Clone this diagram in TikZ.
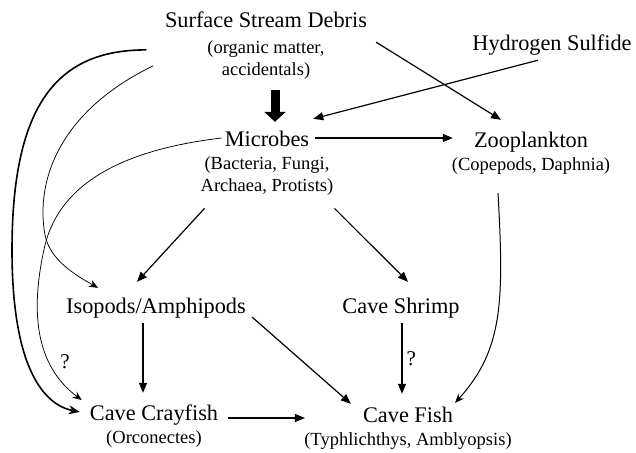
\documentclass[tikz,border=0pt]{standalone}
\usepackage{fontspec}
\setmainfont{Liberation Serif}
\usetikzlibrary{arrows.meta}
\usetikzlibrary{positioning}

\begin{document}
\begin{tikzpicture}[
    x=1pt, y=-1pt,
    taxon/.style={inner sep=0pt, text height=15.5pt, text depth=5pt, anchor=base,
      font=\fontsize{22.3}{26}\selectfont},
    detail/.style={inner sep=0pt, align=center, font=\fontsize{18.5}{22}\selectfont},
    qmark/.style={inner sep=0pt, font=\fontsize{21}{24}\selectfont},
    feed/.style={line width=1.2pt, -{Triangle[length=10pt,width=8pt]}},
    bigfeed/.style={line width=9pt, -{Triangle[length=10pt,width=21pt]}},
    curvefeed/.style={line width=0.75pt, -{Stealth[length=9pt,width=7.5pt,inset=3pt]}},
    thickfeed/.style={line width=1.6pt, -{Stealth[length=11pt,width=9pt,inset=3.5pt]}},
  ]
  \useasboundingbox (0,0) rectangle (636,452);

  % === Sources ===
  \node[taxon] (debris) at (266,28) {Surface Stream Debris};
  \node[detail, below=7pt of debris] (debrissub) {(organic matter,\\accidentals)};
  \node[taxon] (sulfide) at (552,50) {Hydrogen Sulfide};

  % === Base of the web ===
  \node[taxon] (microbes) at (267,146) {Microbes};
  \node[detail, below=5pt of microbes] (microbessub) {(Bacteria, Fungi,\\Archaea, Protists)};
  \node[taxon] (zoop) at (531,147) {Zooplankton};
  \node[detail, below=5pt of zoop] (zoopsub) {(Copepods, Daphnia)};

  % === Consumers ===
  \node[taxon] (isopods) at (156,313) {Isopods/Amphipods};
  \node[taxon] (shrimp) at (401,313) {Cave Shrimp};
  \node[taxon] (crayfish) at (154,420) {Cave Crayfish};
  \node[detail, below=5pt of crayfish] (crayfishsub) {(Orconectes)};
  \node[taxon] (fish) at (408,422) {Cave Fish};
  \node[detail, below=5pt of fish] (fishsub) {(Typhlichthys, Amblyopsis)};

  % bends of the long curves on the left
  \coordinate (bendA) at (12,250);
  \coordinate (bendB) at (45,235);
  \coordinate (bendC) at (45,245);

  % === Straight links ===
  \draw[bigfeed] ([xshift=9pt,yshift=-11pt]debrissub.south) -- ([xshift=8pt,yshift=8.5pt]microbes.north);
  \draw[feed] ([xshift=-14pt,yshift=-5pt]sulfide.south) -- ([xshift=4pt,yshift=11.5pt]microbes.north east);
  \draw[feed] ([xshift=9pt,yshift=-9pt]debris.south east) -- ([xshift=-30pt,yshift=11.5pt]zoop.north);
  \draw[feed] ([xshift=6pt,yshift=2.75pt]microbes.east) -- ([xshift=-21pt,yshift=3.75pt]zoop.west);
  \draw[feed] ([xshift=4pt,yshift=-13pt]microbessub.south west) -- ([xshift=-19pt,yshift=15.5pt]isopods.north);
  \draw[feed] ([xshift=1pt,yshift=-13pt]microbessub.south east) -- ([xshift=7pt,yshift=15.5pt]shrimp.north);
  \draw[feed] ([xshift=-13pt,yshift=-5pt]isopods.south) -- ([xshift=-11pt,yshift=11.5pt]crayfish.north);
  \draw[feed] ([xshift=6pt,yshift=-9.25pt]isopods.east) -- ([xshift=-12pt,yshift=2.5pt]fish.north west);
  \draw[feed] ([xshift=1pt,yshift=-5pt]shrimp.south) -- ([xshift=-6pt,yshift=12.5pt]fish.north)
    node[qmark, midway, right=4pt] (shrimpq) {?};
  \draw[feed] ([xshift=10pt,yshift=-3.25pt]crayfish.east) -- ([xshift=-58pt,yshift=-1.25pt]fish.west);

  % === Curved links ===
  \draw[curvefeed, line width=1pt] ([xshift=-33pt,yshift=-18.5pt]zoopsub.south)
    .. controls +(6,109) and +(48,-53) .. ([xshift=2pt,yshift=3.5pt]fish.north east);
  \draw[thickfeed] ([xshift=-61pt,yshift=9.9pt]debrissub.west)
    .. controls +(-86,0) and +(0,-150) .. (bendA)
    .. controls +(0,120) and +(-35,-7) .. ([xshift=-10pt,yshift=2.75pt]crayfish.west);
  \draw[curvefeed] ([xshift=-54pt,yshift=-6pt]debrissub.west)
    .. controls +(-93,45) and +(-10,-55) .. (bendB)
    .. controls +(5,25) and +(-23,-13) .. ([xshift=32pt,yshift=9.5pt]isopods.north west);
  \draw[curvefeed] ([xshift=-3pt,yshift=2.75pt]microbes.west)
    .. controls +(-102,12) and +(15,-60) .. (bendC)
    .. controls +(-15,65) and +(-47,-35) .. ([xshift=-8pt,yshift=14.75pt]crayfish.west);
  \node[qmark] (crayfishq) at (65,362) {?};

\end{tikzpicture}
\end{document}
